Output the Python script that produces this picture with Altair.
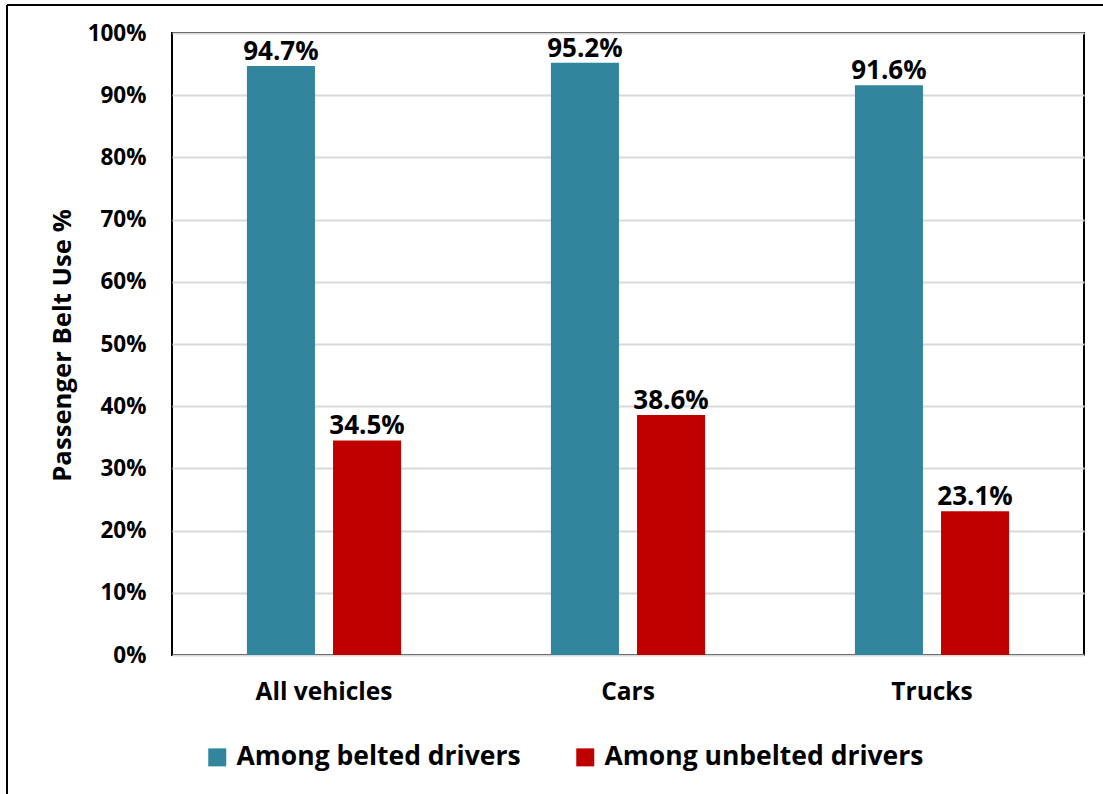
import altair as alt
import pandas as pd

categories = ["All vehicles", "Cars", "Trucks"]
series = ["Among belted drivers", "Among unbelted drivers"]
belted = [94.7, 95.2, 91.6]
unbelted = [34.5, 38.6, 23.1]
colors = ["#31859C", "#C00000"]
y_ticks = [0, 10, 20, 30, 40, 50, 60, 70, 80, 90, 100]

rows = []
for c, b, u in zip(categories, belted, unbelted):
    rows.append({"vehicle": c, "series": series[0], "value": b})
    rows.append({"vehicle": c, "series": series[1], "value": u})
df = pd.DataFrame(rows)
df["label"] = df["value"].map(lambda v: f"{v:.1f}%")

FONT = "Open Sans"

x_enc = alt.X("vehicle:N", sort=categories,
              scale=alt.Scale(paddingInner=0, paddingOuter=0),
              axis=alt.Axis(title=None, labelAngle=0, domain=False, ticks=False,
                            labelFontSize=24.5, labelFontWeight="bold", labelColor="black",
                            labelFont=FONT, labelPadding=25))
xo_enc = alt.XOffset("series:N", sort=series,
                     scale=alt.Scale(paddingInner=0.21, paddingOuter=0.87))
y_enc = alt.Y("value:Q", scale=alt.Scale(domain=[0, 100], nice=False),
              axis=alt.Axis(values=y_ticks, labelExpr="datum.value + '%'",
                            title="Passenger Belt Use %", domain=False, ticks=False,
                            grid=True, gridColor="#d9d9d9", gridWidth=2,
                            labelFontSize=22.5, labelFontWeight="bold", labelColor="black",
                            labelFont=FONT, labelPadding=26,
                            titleFontSize=25.7, titleFontWeight="bold", titleColor="black",
                            titleFont=FONT, titleX=-110, titleY=312, titleAngle=-90,
                            titleAlign="center", titleBaseline="middle"))

base = alt.Chart(df)

bars = base.mark_bar().encode(
    x=x_enc, xOffset=xo_enc, y=y_enc,
    color=alt.Color("series:N", sort=series,
                    scale=alt.Scale(domain=series, range=colors),
                    legend=alt.Legend(title=None, orient="none", direction="horizontal",
                                      legendX=32, legendY=711, padding=0,
                                      symbolType="square", symbolSize=324,
                                      symbolStrokeWidth=0, symbolOpacity=1,
                                      labelFontSize=26.5, labelFontWeight="bold",
                                      labelColor="black", labelFont=FONT,
                                      labelOffset=6, labelLimit=500,
                                      columnPadding=51)),
)

labels = base.mark_text(baseline="alphabetic", dy=-6, fontSize=26,
                        fontWeight="bold", font=FONT, color="black").encode(
    x=alt.X("vehicle:N", sort=categories), xOffset=alt.XOffset("series:N", sort=series),
    y=alt.Y("value:Q"), text="label:N")

frame_df = pd.DataFrame({"a": [0]})
left_frame = alt.Chart(frame_df).mark_rule(color="black", strokeWidth=2).encode(
    x=alt.value(-165), y=alt.value(-28), y2=alt.value(800))
top_frame = alt.Chart(frame_df).mark_rule(color="black", strokeWidth=2).encode(
    x=alt.value(-165), x2=alt.value(1000), y=alt.value(-28))

chart = alt.layer(bars, labels, left_frame, top_frame).properties(
    width=912, height=622,
    autosize=alt.AutoSizeParams(type="none"),
    padding={"left": 172, "top": 33, "right": 19, "bottom": 139},
    background="white",
).configure_view(stroke="black", strokeWidth=2)

chart.save("out.html", embed_options={"renderer": "svg", "actions": False})
